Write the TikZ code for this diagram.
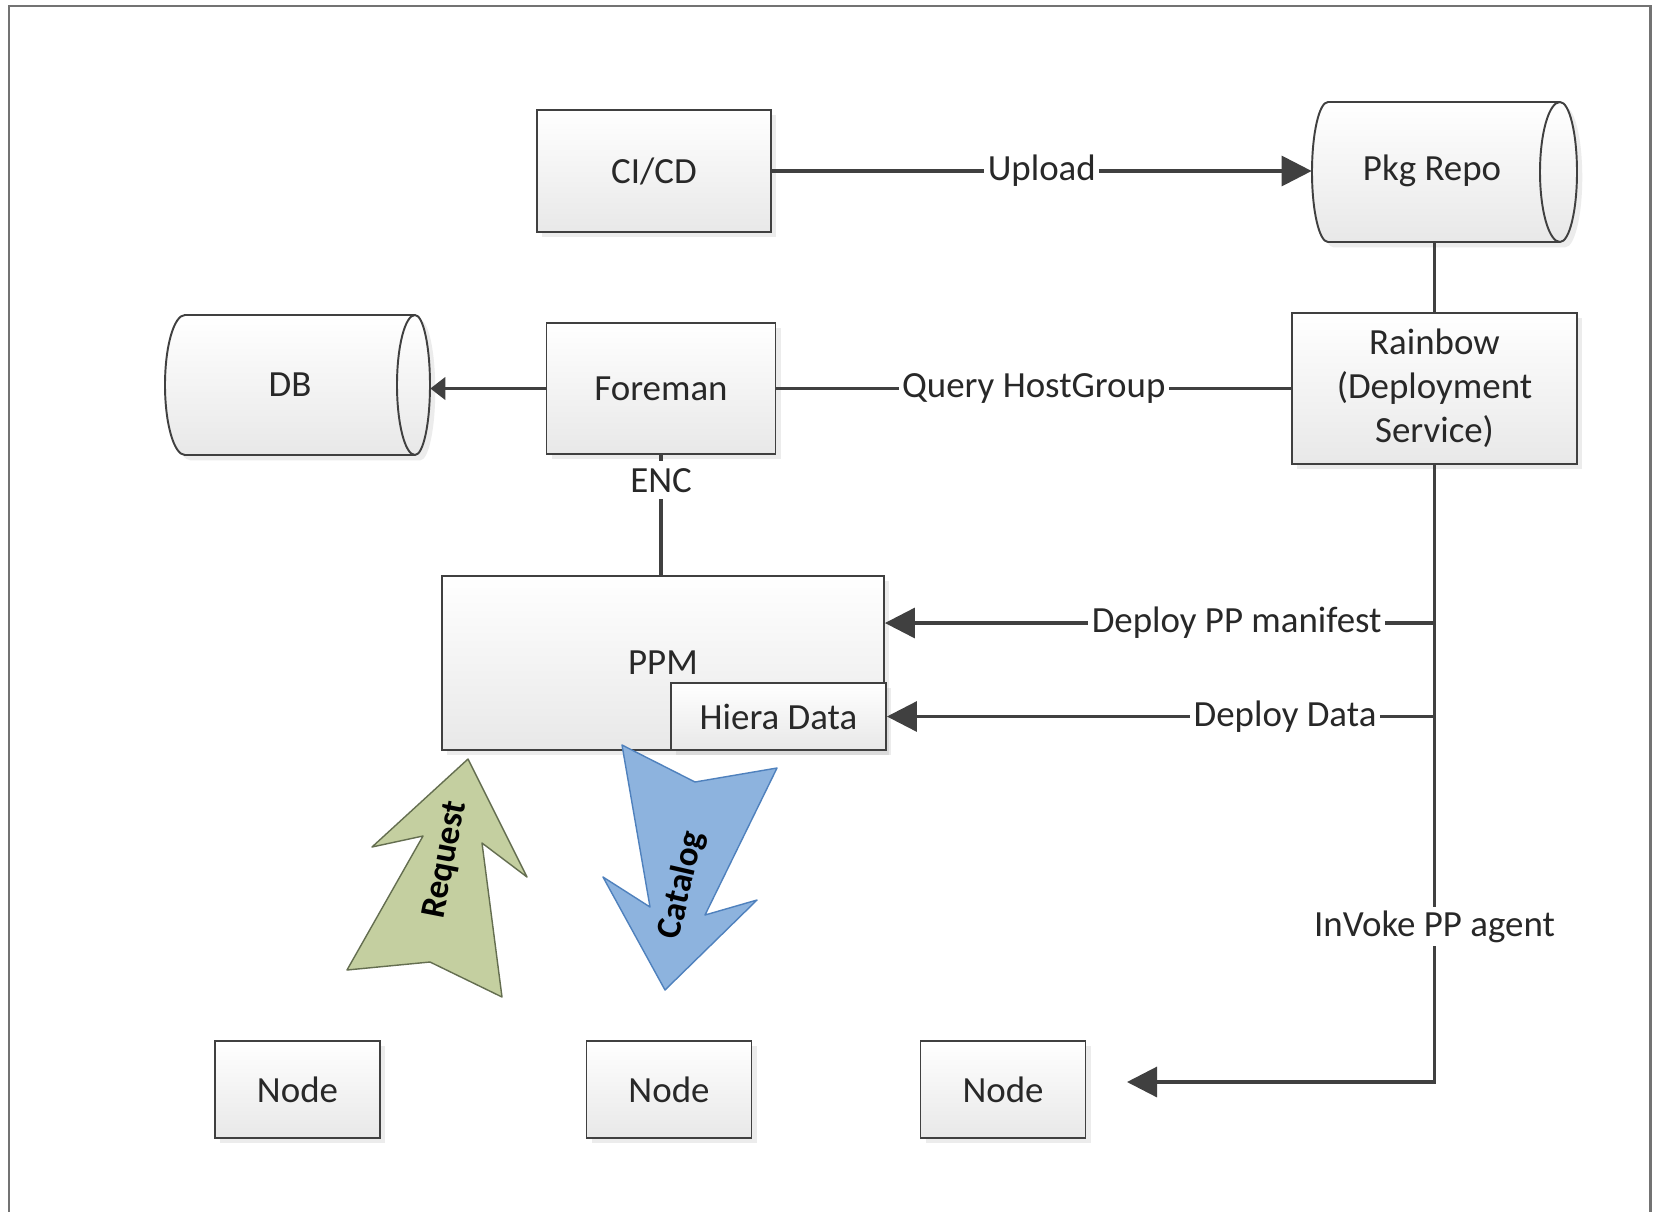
\documentclass[tikz,border=0pt]{standalone}
\usepackage{fontspec}
\setmainfont{Carlito}
\usetikzlibrary{arrows.meta,shadows,calc}
\definecolor{ln}{RGB}{64,64,64}
\definecolor{txt}{RGB}{40,40,40}
\definecolor{boxbot}{RGB}{232,232,232}
\definecolor{req}{RGB}{196,207,160}
\definecolor{reqb}{RGB}{100,110,80}
\definecolor{cat}{RGB}{141,179,222}
\definecolor{catb}{RGB}{79,129,189}
\definecolor{frm}{RGB}{115,115,115}
\newcommand\mycyl[8]{%
 \pgfmathsetmacro\cylym{(#4+#5)/2}\pgfmathsetmacro\cylhh{(#5-#4)/2}%
 \path[draw=ln,line width=1.1pt,top color=white,bottom color=boxbot,
   drop shadow={shadow xshift=3pt,shadow yshift=-3pt,opacity=0.15}]
   (#2,#4) -- (#3,#4)
   .. controls ({#3+0.5523*#7},#4) and ({#3+#7},{\cylym-0.5523*\cylhh}) .. ({#3+#7},\cylym)
   .. controls ({#3+#7},{\cylym+0.5523*\cylhh}) and ({#3+0.5523*#7},#5) .. (#3,#5)
   -- (#2,#5)
   .. controls ({#2-0.5523*#6},#5) and ({#2-#6},{\cylym+0.5523*\cylhh}) .. ({#2-#6},\cylym)
   .. controls ({#2-#6},{\cylym-0.5523*\cylhh}) and ({#2-0.5523*#6},#4) .. (#2,#4) -- cycle;
 \draw[ln,line width=1.1pt] (#3,#4)
   .. controls ({#3-0.5523*#8},#4) and ({#3-#8},{\cylym-0.5523*\cylhh}) .. ({#3-#8},\cylym)
   .. controls ({#3-#8},{\cylym+0.5523*\cylhh}) and ({#3-0.5523*#8},#5) .. (#3,#5);
 \node[inner sep=0pt,minimum width={(#3+#7-#2+#6)*0.02cm},minimum height={(#5-#4)*0.02cm}]
   (#1) at ({(#2-#6+#3+#7)/2},\cylym) {};%
}
\begin{document}
\begin{tikzpicture}[x=0.02cm,y=-0.02cm,
  every node/.style={font=\fontsize{21}{25}\selectfont, text=txt},
  box/.style={draw=ln, line width=1.1pt, top color=white, bottom color=boxbot,
    drop shadow={shadow xshift=3pt,shadow yshift=-3pt,opacity=0.15},
    align=center, inner sep=0pt},
  arr/.style={draw=ln, line width=1.8pt, -{Triangle[length=0.6cm,width=0.6cm]}},
  con/.style={draw=ln, line width=1.8pt},
  lbl/.style={fill=white, inner sep=2pt},
  bigtxt/.style={font=\fontsize{20}{24}\selectfont\bfseries, text=black}
]
\useasboundingbox (0,0) rectangle (1654,1211);
\fill[white] (0,0) rectangle (1654,1211);
% frame
\draw[frm, line width=1.7pt] (9,1240) -- (9,6) -- (1650,6) -- (1650,1240);

% boxes
\node[box, minimum width=4.68cm, minimum height=2.44cm] (cicd) at (654,171) {CI/CD};
\node[box, minimum width=4.58cm, minimum height=2.62cm] (foreman) at (661,388.5) {Foreman};
\node[box, minimum width=5.7cm, minimum height=3.02cm] (rainbow) at (1434.5,388.5) {Rainbow\\(Deployment\\Service)};
\node[box, minimum width=8.84cm, minimum height=3.48cm] (ppm) at (663,663) {PPM};
\node[box, minimum width=4.3cm, minimum height=1.34cm] (hiera) at (778.5,716.5) {Hiera Data};
\node[box, minimum width=3.3cm, minimum height=1.94cm] (n1) at (297.5,1089.5) {Node};
\node[box, minimum width=3.3cm, minimum height=1.94cm] (n2) at (669,1089.5) {Node};
\node[box, minimum width=3.3cm, minimum height=1.94cm] (n3) at (1003,1089.5) {Node};

% cylinders
\mycyl{db}{185}{415}{315}{455}{20}{15}{18}
\node (dbt) at (290,385) {DB};
\mycyl{pkg}{1328}{1560}{102}{242}{16}{17}{20}
\node (pkgt) at (1432,171) {Pkg Repo};

% connectors
\draw[arr] (cicd.east) -- node[lbl]{Upload} (pkg.west |- cicd.east);
\draw[con] (pkg.south -| rainbow.north) -- (rainbow.north);
\draw[draw=ln, line width=1.4pt, -{Triangle[length=0.3cm,width=0.45cm]}] (foreman.west) -- (db.east |- foreman.west);
\draw[con] (foreman.east) -- node[lbl]{Query HostGroup} (rainbow.west |- foreman.east);
\draw[con] (foreman.south) -- node[lbl, pos=0.21, inner sep=4pt]{ENC} (foreman.south |- ppm.north);

\coordinate (j1) at (1434.5,623);
\coordinate (j2) at (1434.5,716.5);
\coordinate (tip) at (1127,1082);
\draw[arr] (rainbow.south) -- node[lbl, pos=0.748]{InVoke PP agent} (rainbow.south |- tip) -- (tip);
\draw[arr] (j1) -- node[lbl, pos=0.36]{Deploy PP manifest} (ppm.east |- j1);
\draw[arr] (j2) -- node[lbl, pos=0.273]{Deploy Data} (hiera.east |- j2);

% big arrows
\draw[fill=req, draw=reqb, line width=0.8pt, line join=round]
  (468,759) -- (527,877) -- (482,843) -- (502,997) -- (430,962) -- (347,970) -- (423,836) -- (372,847) -- cycle;
\node[bigtxt, rotate=79] (reqt) at (446,860) {Request};
\draw[fill=cat, draw=catb, line width=0.8pt, line join=round]
  (622,745) -- (695,782) -- (777,768) -- (705,915) -- (757,900) -- (665,990) -- (603,877) -- (650,907) -- cycle;
\node[bigtxt, rotate=77] (catt) at (682,885) {Catalog};
\end{tikzpicture}
\end{document}
